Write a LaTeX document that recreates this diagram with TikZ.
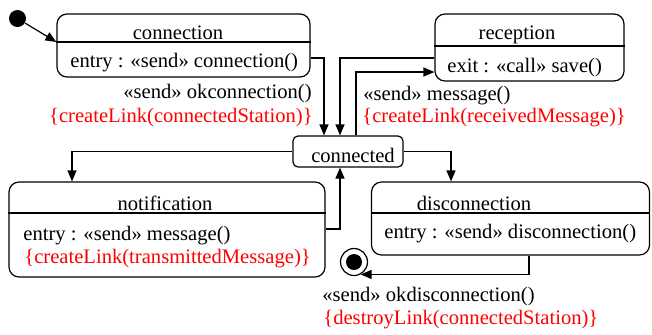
\documentclass[tikz,border=0pt]{standalone}
\usepackage{fontspec}
\setmainfont{Liberation Serif}
\usetikzlibrary{arrows.meta}
\begin{document}
\begin{tikzpicture}[x=0.5pt,y=-0.5pt,font=\rmfamily\fontsize{10.3}{12}\selectfont,state/.style={draw,rounded corners=5pt,line width=0.6pt,inner sep=0pt},stateS/.style={state,rounded corners=2.5pt},txt/.style={inner sep=0pt},txtl/.style={txt,anchor=west},txtr/.style={txt,anchor=east},guard/.style={red},tr/.style={line width=0.6pt,-{Triangle[length=5.5pt,width=4.5pt]}},sep/.style={line width=0.6pt}]
\useasboundingbox (0,0) rectangle (652,334);

\node[circle,fill,inner sep=0pt,minimum size=8.5pt] (I) at (17.5,18.5) {};

\node[state,minimum width=126.5pt,minimum height=31.5pt] (C) at (183.5,45.5) {};
\draw[sep] (C.west |- 0,42) -- (C.east |- 0,42);
\node[txt] (Ct) at (178,33) {connection};
\node[txtl] (Cb) at (70,63) {entry : «send» connection()};

\node[state,minimum width=94.5pt,minimum height=33.5pt] (R) at (529.5,47.5) {};
\draw[sep] (R.west |- 0,46) -- (R.east |- 0,46);
\node[txt] (Rt) at (517,35) {reception};
\node[txtl] (Rb) at (447,68) {exit : «call» save()};

\node[stateS,minimum width=55pt,minimum height=15.5pt] (K) at (348,151.5) {};
\node[txt] (Kt) at (353,155) {connected};

\node[state,minimum width=158pt,minimum height=47.5pt] (N) at (167,229.5) {};
\draw[sep] (N.west |- 0,213) -- (N.east |- 0,213);
\node[txt] (Nt) at (165,203) {notification};
\node[txtl] (Nb) at (23,236) {entry : «send» message()};
\node[txtl,guard] (Nb2) at (24,259) {\{createLink(transmittedMessage)\}};

\node[state,minimum width=139pt,minimum height=36.5pt] (D) at (510.5,218.5) {};
\draw[sep] (D.west |- 0,213) -- (D.east |- 0,213);
\node[txt] (Dt) at (474,203) {disconnection};
\node[txtl] (Db) at (384,234) {entry : «send» disconnection()};

\node[circle,draw,line width=0.6pt,inner sep=0pt,minimum size=13.5pt] (F) at (354,262) {};
\node[circle,fill,inner sep=0pt,minimum size=8pt] (Fi) at (F) {};

\draw[tr] (I) -- (C.west |- 0,42);
\draw[tr] (C.east |- 0,58) -| (K.north -| 324,0);
\draw[tr] (R.west |- 0,58) -| (K.north -| 340,0);
\draw[tr] (K.north -| 356,0) |- (R.west |- 0,72);
\draw[tr] (K.west) -| (N.north -| 72,0);
\draw[tr] (K.east) -| (D.north -| 451,0);
\draw[tr] (N.east |- 0,229) -| (K.south -| 340,0);
\draw[tr] (D.south -| 529,0) |- (F.-62);

\node[txtr] (L1) at (312,94) {«send» okconnection()};
\node[txtr,guard] (L1g) at (313,118) {\{createLink(connectedStation)\}};
\node[txtl] (L2) at (363,96) {«send» message()};
\node[txtl,guard] (L2g) at (362,118) {\{createLink(receivedMessage)\}};
\node[txtl] (L3) at (322,297) {«send» okdisconnection()};
\node[txtl,guard] (L3g) at (323,320) {\{destroyLink(connectedStation)\}};
\end{tikzpicture}
\end{document}
